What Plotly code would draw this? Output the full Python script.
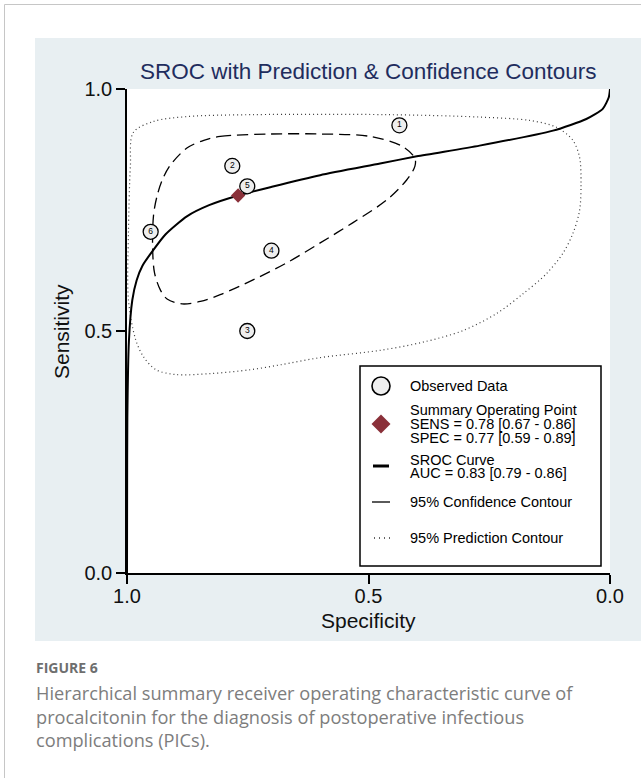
import plotly.graph_objects as go

# ---- study-level estimates (specificity, sensitivity) ----
study_id = ["1", "2", "3", "4", "5", "6"]
study_spec = [0.436, 0.782, 0.751, 0.701, 0.751, 0.951]
study_sens = [0.925, 0.841, 0.500, 0.666, 0.799, 0.705]

# ---- summary operating point ----
summary_spec = [0.77]
summary_sens = [0.78]

# ---- SROC curve ----
sroc_spec = [1.0, 0.9998, 0.9993, 0.996, 0.989, 0.980, 0.968, 0.948, 0.920,
             0.876, 0.830, 0.770, 0.700, 0.600, 0.476, 0.400, 0.270, 0.118,
             0.049, 0.015, 0.0025, 0.0]
sroc_sens = [0.0, 0.15, 0.32, 0.48, 0.564, 0.605, 0.635, 0.664, 0.700,
             0.737, 0.760, 0.780, 0.798, 0.822, 0.846, 0.861, 0.883, 0.914,
             0.938, 0.959, 0.983, 1.0]

# ---- 95% confidence contour ----
conf_spec = [0.841, 0.807, 0.704, 0.600, 0.497, 0.429, 0.404, 0.404, 0.421,
             0.462, 0.532, 0.600, 0.669, 0.738, 0.807, 0.848, 0.886, 0.917,
             0.931, 0.943, 0.947, 0.945, 0.938, 0.927, 0.910, 0.876, 0.841]
conf_sens = [0.894, 0.902, 0.907, 0.907, 0.902, 0.881, 0.857, 0.840, 0.812,
             0.771, 0.724, 0.682, 0.641, 0.606, 0.575, 0.561, 0.556, 0.566,
             0.585, 0.620, 0.675, 0.740, 0.778, 0.812, 0.843, 0.878, 0.894]

# ---- 95% prediction contour ----
pred_spec = [0.987, 0.945, 0.876, 0.739, 0.462, 0.270, 0.166, 0.111, 0.077,
             0.063, 0.060, 0.063, 0.077, 0.098, 0.132, 0.180, 0.235, 0.304,
             0.387, 0.476, 0.600, 0.683, 0.745, 0.827, 0.899, 0.940, 0.966,
             0.982, 0.997, 0.997, 0.993, 0.987]
pred_sens = [0.910, 0.933, 0.943, 0.947, 0.947, 0.942, 0.935, 0.921, 0.894,
             0.859, 0.804, 0.749, 0.701, 0.660, 0.618, 0.577, 0.536, 0.501,
             0.477, 0.460, 0.445, 0.430, 0.420, 0.412, 0.410, 0.420, 0.447,
             0.482, 0.564, 0.703, 0.840, 0.910]

tick_vals = [0.0, 0.5, 1.0]
tick_text = ["0.0", "0.5", "1.0"]

FONT = "Liberation Sans, Arial, sans-serif"
CAP_FONT = "Open Sans, Lato, sans-serif"
PANEL = "#e8eff2"
NAVY = "#1f2d5e"
MAROON = "#8a3039"

W, H = 641, 778
ML, MR, MT, MB = 127, 31, 89, 205
PW, PH = W - ML - MR, H - MT - MB


def fx(x):
    """page pixel x -> paper fraction"""
    return (x - ML) / PW


def fy(y):
    """page pixel y -> paper fraction"""
    return (H - MB - y) / PH


fig = go.Figure()

fig.add_trace(go.Scatter(
    x=pred_spec, y=pred_sens, mode="lines",
    line=dict(color="#3a3a3a", width=1.2, dash="1px,3px", shape="spline", smoothing=0.9),
    hoverinfo="skip", showlegend=False))

fig.add_trace(go.Scatter(
    x=conf_spec, y=conf_sens, mode="lines",
    line=dict(color="black", width=1.3, dash="11px,6px", shape="spline", smoothing=0.9),
    hoverinfo="skip", showlegend=False))

fig.add_trace(go.Scatter(
    x=sroc_spec, y=sroc_sens, mode="lines",
    line=dict(color="black", width=2, shape="spline", smoothing=0.6),
    hoverinfo="skip", showlegend=False))

fig.add_trace(go.Scatter(
    x=study_spec, y=study_sens, mode="markers+text", text=study_id,
    textposition="middle center", textfont=dict(family=FONT, size=8.5, color="black"),
    marker=dict(symbol="circle", size=15, color="#eeeeee",
                line=dict(color="black", width=1.3)),
    hoverinfo="skip", showlegend=False))

fig.add_trace(go.Scatter(
    x=summary_spec, y=summary_sens, mode="markers",
    marker=dict(symbol="diamond", size=11, color=MAROON, line=dict(width=0)),
    hoverinfo="skip", showlegend=False))

shapes = [
    # card outline
    dict(type="line", xref="paper", yref="paper", x0=fx(4.5), x1=fx(4.5), y0=fy(4.5), y1=fy(800),
         line=dict(color="#c6c6c6", width=1), layer="below"),
    dict(type="line", xref="paper", yref="paper", x0=fx(4.5), x1=fx(660), y0=fy(4.5), y1=fy(4.5),
         line=dict(color="#c6c6c6", width=1), layer="below"),
    # graph region
    dict(type="rect", xref="paper", yref="paper", x0=fx(35), x1=fx(660), y0=fy(641), y1=fy(38),
         fillcolor=PANEL, line=dict(width=0), layer="below"),
    # plot region
    dict(type="rect", xref="paper", yref="paper", x0=0, x1=1, y0=0, y1=1,
         fillcolor="white", line=dict(width=0), layer="below"),
    # legend frame
    dict(type="rect", xref="paper", yref="paper", x0=fx(360), x1=fx(601), y0=fy(566), y1=fy(366),
         fillcolor="white", line=dict(color="black", width=1.5)),
    # legend keys
    dict(type="circle", xref="paper", yref="paper", x0=fx(372), x1=fx(390), y0=fy(395), y1=fy(377),
         fillcolor="#eeeeee", line=dict(color="black", width=1.6)),
    dict(type="path", xref="paper", yref="paper",
         path="M {a},{b} L {c},{d} L {a},{e} L {f},{d} Z".format(
             a=fx(381), b=fy(414.5), c=fx(390.5), d=fy(424), e=fy(433.5), f=fx(371.5)),
         fillcolor=MAROON, line=dict(width=0)),
    dict(type="line", xref="paper", yref="paper", x0=fx(373), x1=fx(389), y0=fy(466), y1=fy(466),
         line=dict(color="black", width=3)),
    dict(type="line", xref="paper", yref="paper", x0=fx(372), x1=fx(390), y0=fy(502), y1=fy(502),
         line=dict(color="black", width=1.3)),
    dict(type="line", xref="paper", yref="paper", x0=fx(374), x1=fx(391), y0=fy(538), y1=fy(538),
         line=dict(color="#333333", width=1.3, dash="1px,4px")),
]

annotations = []


def text(x, y, s, size, color="black", family=FONT, xanchor="left", angle=0):
    annotations.append(dict(x=fx(x), y=fy(y), xref="paper", yref="paper", text=s,
                            showarrow=False, xanchor=xanchor, yanchor="middle",
                            textangle=angle, borderpad=0,
                            font=dict(family=family, size=size, color=color)))


text(368, 71, "SROC with Prediction &amp; Confidence Contours", 22.5, NAVY, xanchor="center")
text(368, 620, "Specificity", 21, "#111111", xanchor="center")
text(61, 332, "Sensitivity", 21, "#111111", xanchor="center", angle=-90)

leg_x = 409
text(leg_x, 386, "Observed Data", 14.5)
text(leg_x, 410.5, "Summary Operating Point", 14.5)
text(leg_x, 424, "SENS = 0.78 [0.67 - 0.86]", 14.5)
text(leg_x, 437.5, "SPEC = 0.77 [0.59 - 0.89]", 14.5)
text(leg_x, 459.5, "SROC Curve", 14.5)
text(leg_x, 473, "AUC = 0.83 [0.79 - 0.86]", 14.5)
text(leg_x, 502, "95% Confidence Contour", 14.5)
text(leg_x, 538, "95% Prediction Contour", 14.5)

text(35, 667, "<b>FIGURE 6</b>", 14, "#6e6e6e", family=CAP_FONT)
caption = [
    "Hierarchical summary receiver operating characteristic curve of",
    "procalcitonin for the diagnosis of postoperative infectious",
    "complications (PICs).",
]
for i, line in enumerate(caption):
    text(35, 693 + i * 23.5, line, 18.2, "#7d7d7d", family=CAP_FONT)

axis_common = dict(
    tickvals=tick_vals, ticktext=tick_text, ticks="outside", ticklen=9,
    tickwidth=1.5, tickcolor="black", showline=True, linecolor="black",
    linewidth=1.5, showgrid=False, zeroline=False, fixedrange=True,
    tickfont=dict(family=FONT, size=20, color="#111111"),
)

fig.update_layout(
    width=W, height=H,
    margin=dict(l=ML, r=MR, t=MT, b=MB, pad=0),
    paper_bgcolor="white", plot_bgcolor="white",
    xaxis=dict(range=[1, 0], ticklabelstandoff=-5, **axis_common),
    yaxis=dict(range=[0, 1], **axis_common),
    shapes=shapes, annotations=annotations, showlegend=False,
)

fig.write_html("out.html", config={"displayModeBar": False})
